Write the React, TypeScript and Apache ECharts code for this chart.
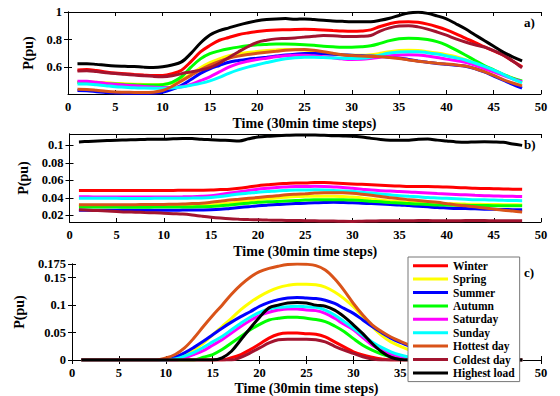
import React, { useEffect, useRef } from 'react';
import * as echarts from 'echarts';

const steps = [1,2,3,4,5,6,7,8,9,10,11,12,13,14,15,16,17,18,19,20,21,22,23,24,25,26,27,28,29,30,31,32,33,34,35,36,37,38,39,40,41,42,43,44,45,46,47,48];

const names = ['Winter', 'Spring', 'Summer', 'Autumn', 'Saturday', 'Sunday', 'Hottest day', 'Coldest day', 'Highest load'];
const colors = ['#ff0000', '#ffff00', '#0000ff', '#00ff00', '#ff00ff', '#00ffff', '#d95319', '#a2142f', '#000000'];

const xTickValues = [0, 5, 10, 15, 20, 25, 30, 35, 40, 45, 50];
// labels of panel c that are not hidden behind the legend
const xLabelValuesC = [0, 5, 10, 15, 20, 25, 30, 35, 50];
const yTicksA = [0.6, 0.8, 1];
const yTicksB = [0.02, 0.04, 0.06, 0.08, 0.1];
const yTicksC = [0, 0.05, 0.1, 0.15, 0.175];
const panelLabels = ['a)', 'b)', 'c)'];

// Panel a)
const winterA = [.579,.582,.575,.565,.557,.552,.547,.543,.54,.54,.552,.578,.64,.71,.757,.795,.815,.835,.848,.858,.865,.869,.871,.873,.874,.873,.87,.866,.862,.86,.862,.87,.895,.915,.928,.93,.925,.912,.893,.87,.842,.81,.78,.748,.717,.686,.645,.602];
const springA = [.494,.493,.49,.486,.482,.479,.476,.474,.473,.474,.485,.51,.55,.595,.632,.66,.683,.697,.707,.713,.72,.725,.728,.727,.724,.718,.708,.698,.69,.686,.686,.69,.7,.712,.72,.722,.72,.712,.702,.69,.675,.655,.628,.6,.572,.546,.52,.49];
const summerA = [.43,.428,.422,.416,.413,.411,.41,.41,.412,.418,.438,.468,.51,.555,.588,.612,.635,.648,.658,.665,.672,.68,.688,.694,.698,.698,.697,.694,.69,.686,.682,.68,.677,.672,.666,.656,.645,.635,.626,.62,.614,.607,.59,.565,.535,.505,.475,.447];
const autumnA = [.488,.488,.485,.48,.477,.474,.472,.47,.47,.473,.49,.53,.6,.66,.698,.718,.733,.745,.755,.762,.765,.767,.767,.766,.763,.758,.752,.748,.745,.745,.748,.755,.772,.792,.806,.81,.808,.8,.785,.76,.725,.688,.65,.612,.58,.548,.52,.5];
const saturdayA = [.497,.497,.49,.482,.476,.47,.465,.46,.455,.452,.452,.458,.475,.502,.53,.565,.6,.625,.642,.655,.665,.675,.682,.686,.686,.682,.676,.668,.66,.656,.657,.663,.672,.682,.688,.69,.688,.68,.67,.658,.648,.635,.615,.59,.565,.54,.515,.495];
const sundayA = [.478,.478,.472,.465,.458,.454,.45,.448,.447,.447,.449,.455,.468,.482,.5,.525,.555,.58,.6,.617,.633,.648,.66,.668,.672,.672,.67,.667,.664,.662,.664,.672,.688,.702,.71,.712,.712,.705,.695,.682,.668,.652,.63,.605,.578,.548,.515,.485];
const hottestA = [.44,.438,.432,.425,.42,.418,.416,.415,.418,.43,.46,.5,.54,.58,.614,.642,.664,.68,.692,.7,.708,.715,.722,.726,.727,.722,.712,.7,.69,.684,.68,.677,.675,.67,.662,.652,.643,.635,.628,.622,.616,.608,.59,.567,.54,.51,.485,.464];
const coldestA = [.571,.574,.568,.56,.553,.548,.542,.537,.533,.531,.537,.553,.565,.578,.596,.628,.67,.71,.748,.78,.795,.805,.808,.812,.818,.824,.829,.827,.823,.822,.824,.83,.862,.885,.898,.9,.892,.876,.855,.832,.805,.782,.762,.745,.72,.688,.645,.595];
const highestA = [.624,.625,.62,.613,.608,.606,.604,.6,.598,.602,.615,.638,.7,.775,.833,.865,.885,.905,.922,.936,.945,.95,.952,.947,.95,.945,.94,.935,.932,.93,.93,.93,.94,.955,.975,.993,.998,.99,.972,.95,.915,.878,.835,.793,.752,.71,.675,.645];

// Panel b)
const winterB = [.0485,.0485,.0484,.0484,.0484,.0484,.0485,.0485,.0485,.0486,.0486,.0487,.0487,.0488,.049,.0495,.05,.051,.0525,.054,.055,.056,.0565,.057,.057,.0575,.0575,.057,.0565,.056,.0555,.055,.0545,.054,.0535,.053,.053,.053,.0528,.0525,.052,.0515,.051,.0508,.0505,.0502,.05,.0498];
const springB = [.031,.031,.031,.031,.031,.031,.031,.031,.031,.031,.0312,.0313,.0315,.0317,.032,.033,.034,.0355,.0367,.038,.039,.04,.0408,.0415,.0418,.042,.042,.042,.0415,.041,.04,.0388,.0375,.0365,.0355,.035,.0345,.034,.0338,.0335,.0333,.033,.0328,.0326,.0325,.0323,.0322,.032];
const summerB = [.026,.026,.026,.026,.0259,.0259,.0259,.026,.026,.026,.026,.0261,.0262,.0263,.0265,.027,.028,.029,.03,.031,.0318,.0325,.033,.0335,.034,.0345,.0348,.035,.0348,.0345,.034,.0335,.033,.0325,.032,.0312,.0305,.0298,.029,.0285,.028,.0278,.0275,.0272,.027,.0268,.0266,.0265];
const autumnB = [.0295,.0295,.0295,.0295,.0295,.0294,.0294,.0294,.0295,.0295,.0295,.0296,.0297,.0299,.0302,.031,.032,.033,.034,.035,.0355,.036,.0365,.037,.0375,.0378,.038,.038,.0378,.0375,.037,.0362,.0355,.0348,.0342,.0335,.033,.0325,.032,.0318,.0316,.0315,.0314,.0313,.0312,.0312,.0311,.031];
const saturdayB = [.0412,.0412,.0411,.0411,.041,.041,.041,.041,.041,.041,.0411,.0412,.0414,.0418,.0425,.044,.0455,.047,.0485,.05,.051,.052,.0525,.053,.053,.0532,.053,.0525,.052,.051,.05,.049,.0483,.0478,.0472,.0468,.0462,.0456,.045,.0445,.044,.0435,.043,.0426,.0423,.042,.0418,.0416];
const sundayB = [.0396,.0396,.0395,.0395,.0395,.0394,.0394,.0394,.0395,.0395,.0396,.0397,.0398,.04,.0405,.0415,.043,.0445,.0455,.0465,.0472,.048,.0485,.049,.049,.0492,.049,.0485,.048,.0475,.0465,.0455,.0445,.0435,.0425,.0418,.0412,.0405,.04,.0395,.039,.0385,.038,.0378,.0375,.0372,.037,.0368];
const hottestB = [.0322,.0322,.0322,.0323,.0323,.0323,.0323,.0324,.0324,.0325,.0328,.033,.0335,.034,.035,.0362,.0375,.0385,.0395,.0405,.0415,.0425,.0435,.0442,.0448,.0455,.046,.046,.0458,.0452,.0442,.043,.0415,.0402,.039,.038,.037,.036,.035,.0335,.032,.031,.0298,.0285,.0272,.026,.025,.024];
const coldestB = [.0265,.026,.0255,.025,.0245,.024,.0237,.0233,.023,.0225,.022,.0215,.0205,.0192,.018,.017,.0162,.0157,.0153,.015,.0147,.0145,.0143,.0142,.014,.0138,.0136,.0135,.0133,.0132,.0134,.0136,.0138,.014,.014,.014,.0141,.0141,.014,.014,.014,.0141,.0141,.0141,.014,.014,.014,.014];
const highestB = [.104,.1045,.105,.1055,.106,.1062,.1065,.1068,.107,.107,.1075,.108,.1078,.107,.1065,.106,.1055,.105,.1075,.1095,.1105,.111,.1115,.112,.112,.1118,.1115,.111,.1108,.1105,.1095,.108,.1068,.106,.1058,.106,.107,.1072,.106,.105,.104,.1035,.104,.1042,.104,.1035,.1015,.1];

// Panel c)
const winterC = [0,0,0,0,0,0,0,0,0,0,0,0,0,0,0,0,.004,.01,.019,.029,.04,.047,.049,.049,.048,.047,.042,.033,.024,.015,.009,.005,.002,0,0,0,0,0,0,0,0,0,0,0,0,0,0,0];
const springC = [0,0,0,0,0,0,0,0,0,0,.003,.01,.019,.031,.046,.061,.076,.092,.105,.116,.125,.132,.136,.138,.138,.137,.133,.124,.112,.097,.079,.061,.045,.033,.025,.018,.011,.006,.002,0,0,0,0,0,0,0,0,0];
const summerC = [0,0,0,0,0,0,0,0,0,0,.005,.013,.023,.034,.046,.058,.069,.079,.088,.098,.105,.11,.113,.114,.113,.112,.109,.103,.094,.085,.073,.061,.05,.04,.032,.025,.017,.01,.004,0,0,0,0,0,0,0,0,0];
const autumnC = [0,0,0,0,0,0,0,0,0,0,0,0,0,.005,.01,.019,.031,.043,.055,.065,.073,.076,.078,.078,.076,.074,.07,.062,.052,.039,.027,.018,.011,.006,.003,.001,0,0,0,0,0,0,0,0,0,0,0,0];
const saturdayC = [0,0,0,0,0,0,0,0,0,0,0,.004,.01,.017,.027,.037,.049,.061,.072,.081,.087,.091,.093,.093,.091,.09,.085,.076,.065,.055,.041,.027,.018,.011,.006,.003,.001,0,0,0,0,0,0,0,0,0,0,0];
const sundayC = [0,0,0,0,0,0,0,0,0,0,.002,.007,.014,.023,.033,.043,.055,.067,.078,.087,.093,.096,.097,.098,.097,.096,.091,.082,.07,.058,.045,.033,.023,.015,.009,.005,.002,0,0,0,0,0,0,0,0,0,0,0];
const hottestC = [0,0,0,0,0,0,0,0,0,.0036,.01,.022,.04,.061,.081,.1,.12,.137,.151,.161,.167,.171,.174,.175,.1745,.172,.164,.148,.127,.103,.082,.064,.052,.042,.034,.027,.018,.01,.004,.001,0,0,0,0,0,0,0,0];
const coldestC = [0,0,0,0,0,0,0,0,0,0,0,0,0,0,0,0,0,.005,.013,.022,.031,.037,.038,.038,.038,.037,.033,.025,.018,.012,.006,.002,0,0,0,0,0,0,0,0,0,0,0,0,0,0,0,0];
const highestC = [0,0,0,0,0,0,0,0,0,0,0,0,0,0,0,.004,.016,.037,.058,.078,.095,.1,.104,.105,.104,.1,.098,.091,.079,.064,.048,.03,.015,.005,.001,0,0,0,0,0,0,0,0,0,0,0,0,0];

const panels = [
  [winterA, springA, summerA, autumnA, saturdayA, sundayA, hottestA, coldestA, highestA],
  [winterB, springB, summerB, autumnB, saturdayB, sundayB, hottestB, coldestB, highestB],
  [winterC, springC, summerC, autumnC, saturdayC, sundayC, hottestC, coldestC, highestC],
];

const FONT = '"Liberation Serif", "Times New Roman", serif';

export default function App() {
  const ref = useRef<HTMLDivElement>(null);

  useEffect(() => {
    if (!ref.current) return;
    const chart = echarts.init(ref.current, undefined, { renderer: 'svg' });

    const grids = [
      { left: 68, top: 12, width: 473, height: 82 },
      { left: 69.5, top: 134, width: 471.5, height: 88 },
      { left: 72, top: 264, width: 469, height: 96 },
    ];
    const yCfg = [
      { min: 0.405, max: 1, ticks: yTicksA, nameGap: 25 },
      { min: 0.0125, max: 0.113, ticks: yTicksB, nameGap: 31 },
      { min: 0, max: 0.175, ticks: yTicksC, nameGap: 33 },
    ];
    const xNameGaps = [22, 22.5, 21];
    const xLabelSets = [xTickValues, xTickValues, xLabelValuesC];

    const axisLine = { show: true, lineStyle: { color: '#000', width: 1 } };
    const labelStyle = { fontFamily: FONT, fontWeight: 'bold' as const, fontSize: 12.5, color: '#000' };
    const nameStyle = { fontFamily: FONT, fontWeight: 'bold' as const, fontSize: 14, color: '#000' };

    const xAxis: any[] = [];
    const yAxis: any[] = [];
    grids.forEach((g, i) => {
      xAxis.push({
        type: 'value', gridIndex: i, min: 0, max: 50, interval: 5, position: 'bottom',
        name: 'Time (30min time steps)', nameLocation: 'middle', nameGap: xNameGaps[i], nameTextStyle: nameStyle,
        axisLine, splitLine: { show: false },
        axisTick: { show: true, inside: true, length: 4, customValues: xTickValues, lineStyle: { color: '#000' } },
        axisLabel: { ...labelStyle, margin: 6, customValues: xLabelSets[i] },
      });
      xAxis.push({
        type: 'value', gridIndex: i, min: 0, max: 50, interval: 5, position: 'top',
        axisLine, splitLine: { show: false },
        axisTick: { show: true, inside: true, length: 4, lineStyle: { color: '#000' } },
        axisLabel: { show: false },
      });
      const y = yCfg[i];
      yAxis.push({
        type: 'value', gridIndex: i, min: y.min, max: y.max, position: 'left',
        name: 'P(pu)', nameLocation: 'middle', nameGap: y.nameGap, nameTextStyle: nameStyle,
        axisLine, splitLine: { show: false },
        axisTick: { show: true, inside: true, length: 4, customValues: y.ticks, lineStyle: { color: '#000' } },
        axisLabel: { ...labelStyle, margin: 6, customValues: y.ticks, showMinLabel: true, showMaxLabel: true },
      });
      yAxis.push({
        type: 'value', gridIndex: i, min: y.min, max: y.max, position: 'right',
        axisLine, splitLine: { show: false },
        axisTick: { show: true, inside: true, length: 4, customValues: y.ticks, lineStyle: { color: '#000' } },
        axisLabel: { show: false },
      });
    });

    const series: any[] = [];
    panels.forEach((panel, p) => {
      panel.forEach((vals, k) => {
        series.push({
          type: 'line',
          name: names[k],
          xAxisIndex: p * 2,
          yAxisIndex: p * 2,
          data: steps.map((t, i) => [t, vals[i]]),
          smooth: 0.35,
          symbol: 'none',
          lineStyle: { width: 3, color: colors[k] },
          itemStyle: { color: colors[k] },
          color: colors[k],
          z: 2 + k * 0.01,
        });
      });
    });

    const labelY = [24, 146, 274];
    const graphic = panelLabels.map((txt, i) => ({
      type: 'text',
      left: 524,
      top: labelY[i] - 8,
      style: { text: txt, fontFamily: FONT, fontWeight: 'bold', fontSize: 13, fill: '#000' },
      z: 10,
    }));

    chart.setOption({
      animation: false,
      backgroundColor: '#fff',
      color: colors,
      grid: grids,
      xAxis,
      yAxis,
      series,
      graphic,
      legend: {
        data: names,
        orient: 'vertical',
        left: 408,
        top: 257,
        padding: [2, 5, 2, 5],
        itemWidth: 35,
        itemHeight: 3,
        itemGap: 0,
        icon: 'rect',
        selectedMode: false,
        backgroundColor: '#fff',
        borderColor: '#777',
        borderWidth: 1,
        textStyle: { fontFamily: FONT, fontWeight: 'bold', fontSize: 11.5, color: '#000', lineHeight: 13.4 },
        z: 20,
      },
    });

    return () => chart.dispose();
  }, []);

  return <div ref={ref} style={{ position: 'fixed', left: 0, top: 0, width: 560, height: 396 }} />;
}
